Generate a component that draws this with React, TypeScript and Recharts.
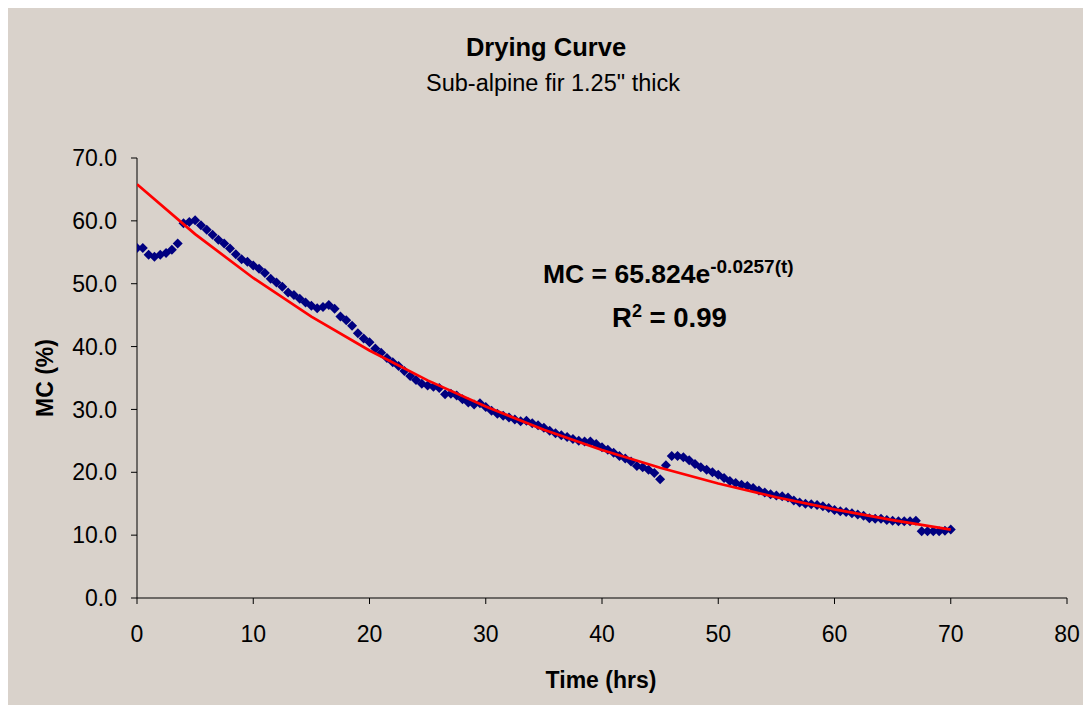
import { ScatterChart, Scatter, XAxis, YAxis } from "recharts";

// measured moisture content (%), one reading every half hour
const TIME = [
  0, 0.5, 1, 1.5, 2, 2.5, 3, 3.5, 4, 4.5, 5, 5.5, 6, 6.5, 7, 7.5, 8, 8.5, 9, 9.5,
  10, 10.5, 11, 11.5, 12, 12.5, 13, 13.5, 14, 14.5, 15, 15.5, 16, 16.5, 17, 17.5,
  18, 18.5, 19, 19.5, 20, 20.5, 21, 21.5, 22, 22.5, 23, 23.5, 24, 24.5, 25, 25.5,
  26, 26.5, 27, 27.5, 28, 28.5, 29, 29.5, 30, 30.5, 31, 31.5, 32, 32.5, 33, 33.5,
  34, 34.5, 35, 35.5, 36, 36.5, 37, 37.5, 38, 38.5, 39, 39.5, 40, 40.5, 41, 41.5,
  42, 42.5, 43, 43.5, 44, 44.5, 45, 45.5, 46, 46.5, 47, 47.5, 48, 48.5, 49, 49.5,
  50, 50.5, 51, 51.5, 52, 52.5, 53, 53.5, 54, 54.5, 55, 55.5, 56, 56.5, 57, 57.5,
  58, 58.5, 59, 59.5, 60, 60.5, 61, 61.5, 62, 62.5, 63, 63.5, 64, 64.5, 65, 65.5,
  66, 66.5, 67, 67.5, 68, 68.5, 69, 69.5, 70,
];

const MC = [
  55.7, 55.7, 54.6, 54.3, 54.6, 54.9, 55.4, 56.4, 59.6, 59.8, 60.1, 59.3, 58.6, 57.8,
  57.0, 56.4, 55.6, 54.7, 53.9, 53.5, 52.9, 52.4, 51.7, 50.8, 50.2, 49.5, 48.6, 48.2,
  47.6, 47.0, 46.5, 46.1, 46.3, 46.6, 46.0, 44.8, 44.2, 43.3, 42.1, 41.3, 40.7, 39.7,
  39.0, 38.2, 37.5, 36.9, 36.1, 35.3, 34.7, 34.1, 33.8, 33.6, 33.4, 32.4, 32.5, 32.2,
  31.6, 31.1, 30.8, 31.0, 30.4, 29.8, 29.3, 29.0, 28.7, 28.4, 28.1, 28.2, 27.8, 27.5,
  27.1, 26.6, 26.2, 25.9, 25.6, 25.3, 25.0, 24.9, 24.9, 24.5, 24.0, 23.6, 23.1, 22.6,
  22.2, 21.7, 21.0, 20.8, 20.4, 19.9, 18.9, 21.1, 22.6, 22.6, 22.4, 21.9, 21.3, 20.8,
  20.4, 20.0, 19.6, 19.1, 18.6, 18.3, 18.0, 17.8, 17.5, 17.1, 16.8, 16.5, 16.3, 16.2,
  16.0, 15.5, 15.2, 15.0, 14.9, 14.8, 14.6, 14.3, 14.0, 13.8, 13.7, 13.5, 13.3, 13.1,
  12.7, 12.6, 12.6, 12.4, 12.3, 12.2, 12.2, 12.2, 12.3, 10.6, 10.6, 10.6, 10.6, 10.7,
  10.9,
];

// exponential trendline, MC = 65.824e^(-0.0257t)
const TREND_TIME = [0, 5, 10, 15, 20, 25, 30, 35, 40, 45, 50, 55, 60, 65, 70];
const TREND_MC = [
  65.82, 57.89, 50.91, 44.77, 39.37, 34.62, 30.45, 26.78, 23.55, 20.71, 18.21, 16.02,
  14.09, 12.39, 10.89,
];

const X_TICKS = [0, 10, 20, 30, 40, 50, 60, 70, 80];
const Y_TICKS = [0, 10, 20, 30, 40, 50, 60, 70];

const points = TIME.map((t, i) => ({ t, mc: MC[i] }));
const trend = TREND_TIME.map((t, i) => ({ t, mc: TREND_MC[i] }));

const FONT = '"Liberation Sans", Arial, sans-serif';
const BG = "#d9d2cb";

function Diamond(props: any) {
  const { cx, cy } = props;
  const r = 5;
  return (
    <polygon
      points={`${cx},${cy - r} ${cx + r},${cy} ${cx},${cy + r} ${cx - r},${cy}`}
      fill="#000080"
    />
  );
}

const NoDot = () => <g />;

export default function App() {
  const tickStyle = { fill: "#000", fontSize: 23, fontFamily: FONT };
  return (
    <div
      style={{
        position: "relative",
        width: 1075,
        height: 697,
        background: BG,
        fontFamily: FONT,
        color: "#000",
      }}
    >
      <ScatterChart
        width={1075}
        height={697}
        margin={{ top: 150, right: 16, bottom: 67, left: 69 }}
      >
        <XAxis
          type="number"
          dataKey="t"
          domain={[0, 80]}
          ticks={X_TICKS}
          height={40}
          tick={tickStyle}
          tickSize={6}
          tickMargin={22}
          stroke="#000"
          allowDataOverflow
        />
        <YAxis
          type="number"
          dataKey="mc"
          domain={[0, 70]}
          ticks={Y_TICKS}
          width={60}
          tick={tickStyle}
          tickSize={6}
          tickMargin={14}
          tickFormatter={(v: number) => v.toFixed(1)}
          stroke="#000"
        />
        <Scatter data={points} shape={<Diamond />} isAnimationActive={false} />
        <Scatter
          data={trend}
          shape={<NoDot />}
          line={{ stroke: "#ff0000", strokeWidth: 2.7 }}
          lineType="joint"
          isAnimationActive={false}
        />
      </ScatterChart>

      <div
        style={{
          position: "absolute",
          left: 0,
          width: 1076,
          top: 25,
          textAlign: "center",
          fontWeight: "bold",
          fontSize: 25.5,
        }}
      >
        Drying Curve
      </div>
      <div
        style={{
          position: "absolute",
          left: 0,
          width: 1090,
          top: 62,
          textAlign: "center",
          fontSize: 23.5,
        }}
      >
        Sub-alpine fir 1.25" thick
      </div>

      <div
        style={{
          position: "absolute",
          left: 535,
          top: 248,
          fontWeight: "bold",
          fontSize: 26.5,
          whiteSpace: "nowrap",
        }}
      >
        MC = 65.824e
        <sup style={{ fontSize: 19 }}>-0.0257(t)</sup>
      </div>
      <div
        style={{
          position: "absolute",
          left: 604,
          top: 293,
          fontWeight: "bold",
          fontSize: 27.5,
          whiteSpace: "nowrap",
        }}
      >
        R<sup style={{ fontSize: 18 }}>2</sup> = 0.99
      </div>

      <div
        style={{
          position: "absolute",
          left: 37,
          top: 370,
          transform: "translate(-50%, -50%) rotate(-90deg)",
          fontWeight: "bold",
          fontSize: 23,
          whiteSpace: "nowrap",
        }}
      >
        MC (%)
      </div>
      <div
        style={{
          position: "absolute",
          left: 593,
          top: 672,
          transform: "translate(-50%, -50%)",
          fontWeight: "bold",
          fontSize: 23,
          whiteSpace: "nowrap",
        }}
      >
        Time (hrs)
      </div>
    </div>
  );
}
